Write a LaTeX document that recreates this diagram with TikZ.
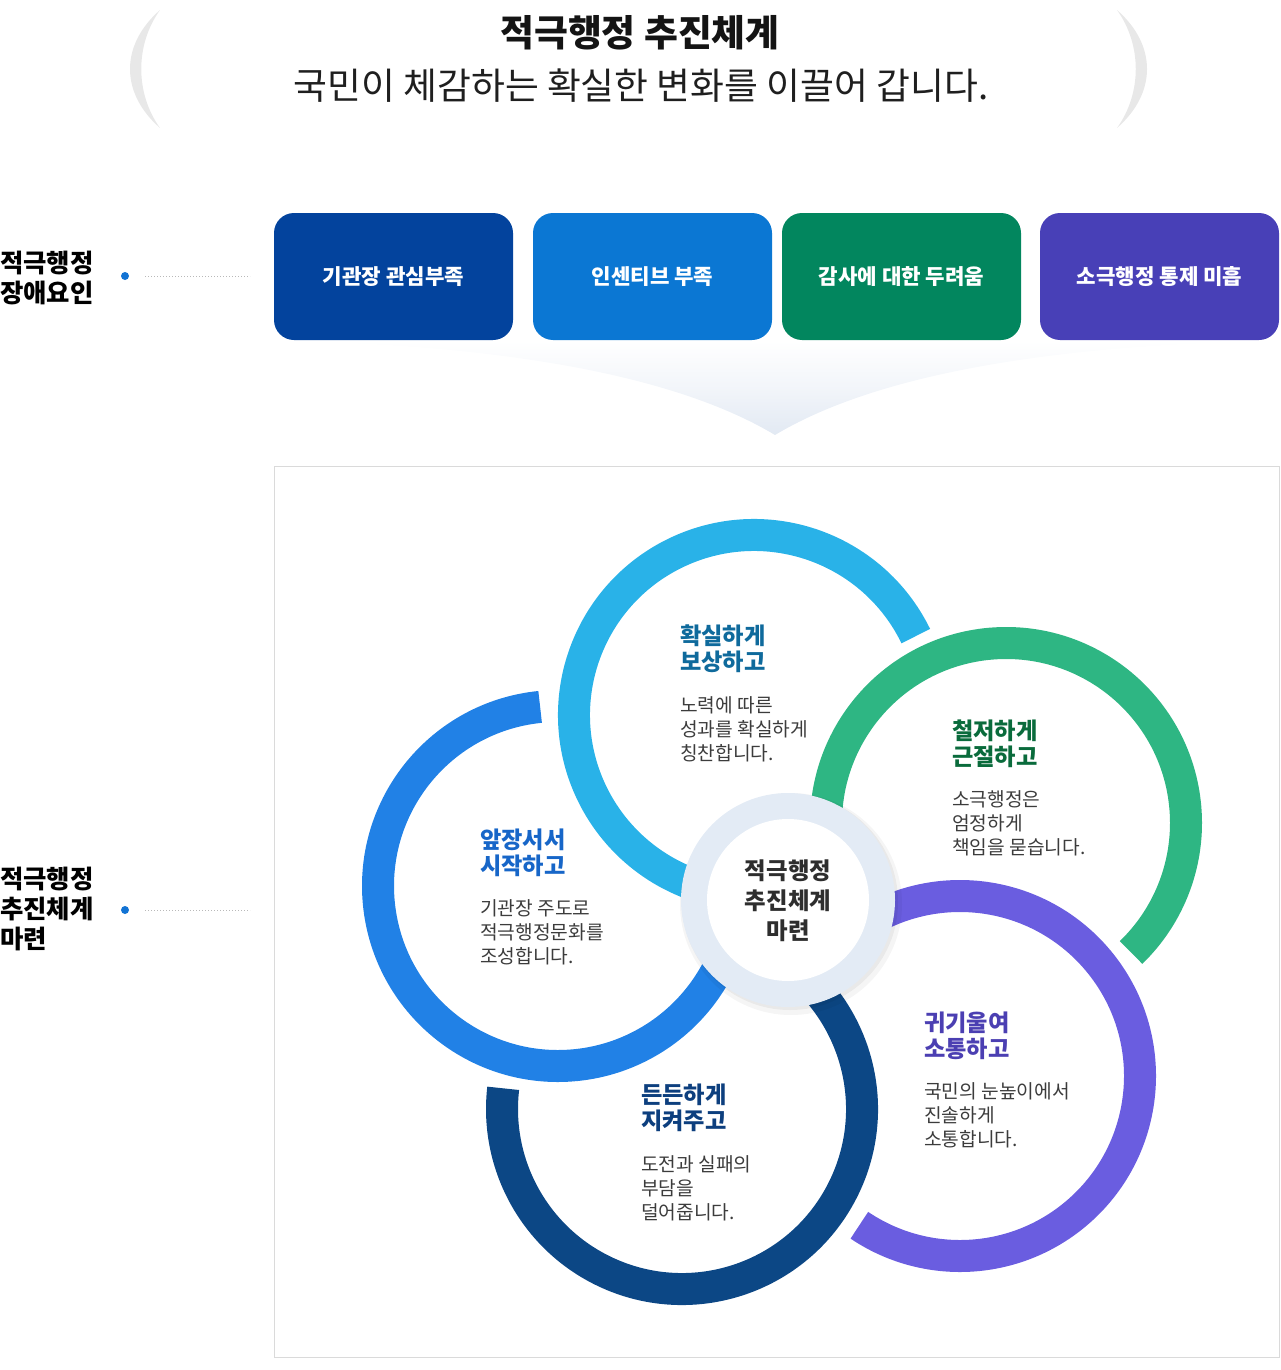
\documentclass[tikz,border=0pt]{standalone}
\usepackage{fontspec}
\setmainfont{Noto Sans CJK KR}
\usetikzlibrary{calc}
\definecolor{boxA}{HTML}{03439D}
\definecolor{boxB}{HTML}{0B77D3}
\definecolor{boxC}{HTML}{02865E}
\definecolor{boxD}{HTML}{4840B7}
\definecolor{ringLB}{HTML}{29B2E8}
\definecolor{ringBL}{HTML}{2181E6}
\definecolor{ringGR}{HTML}{2EB683}
\definecolor{ringPU}{HTML}{6A5DE0}
\definecolor{ringNV}{HTML}{0C4785}
\definecolor{ttlLB}{HTML}{0F6A9C}
\definecolor{ttlBL}{HTML}{1766C8}
\definecolor{ttlGR}{HTML}{0A6B3C}
\definecolor{ttlPU}{HTML}{4B3FB2}
\definecolor{ttlNV}{HTML}{0D3F7E}
\definecolor{bodytxt}{HTML}{3C3C3C}
\definecolor{centerring}{HTML}{E3EBF5}
\definecolor{arrowbg}{HTML}{E2E9F3}
\definecolor{bracketgray}{HTML}{E8E8E8}
\definecolor{framegray}{HTML}{DADADA}
\definecolor{dotblue}{HTML}{1273D4}
\begin{document}
\begin{tikzpicture}[x=1pt,y=-1pt,
  factorbox/.style={rounded corners=20pt, minimum width=239pt, minimum height=127pt, inner sep=0pt, text=white, font=\bfseries\fontsize{21.2}{24}\selectfont},
  sidelabel/.style={anchor=north west, inner sep=0pt, align=left, text=black, font=\bfseries\fontsize{25.4}{30}\selectfont},
  ringline/.style={line width=32pt},
  ringtitle/.style={anchor=north west, inner sep=0pt, align=left, font=\bfseries\fontsize{23.2}{26}\selectfont},
  ringbody/.style={anchor=north west, inner sep=0pt, align=left, text=bodytxt, font=\fontsize{19.2}{24}\selectfont},
  dotline/.style={draw=gray!55, line width=0.7pt, dash pattern=on 1pt off 2pt},
  bracket/.style={fill=bracketgray, draw=none}
]
\useasboundingbox (0,0) rectangle (1280,1370);

% header brackets
\fill[bracket] (160,10) .. controls (120,45) and (120,93) .. (160,128) .. controls (135,93) and (135,45) .. (160,10);
\fill[bracket] (1117,10) .. controls (1157,45) and (1157,93) .. (1117,128) .. controls (1142,93) and (1142,45) .. (1117,10);

% header text
\node[inner sep=0pt, font=\bfseries\fontsize{36.8}{40}\selectfont, text=black!92] (title) at (640,33) {적극행정 추진체계};
\node[inner sep=0pt, font=\fontsize{36.8}{40}\selectfont, text=black!88] (subtitle) at (641,86) {국민이 체감하는 확실한 변화를 이끌어 갑니다.};

% gradient arrow below boxes
\shade[top color=white, bottom color=arrowbg, middle color=arrowbg!45]
  (285,341) .. controls (490,345) and (670,372) .. (775,435)
  .. controls (880,372) and (1060,345) .. (1272,341) -- cycle;

% factor boxes
\node[factorbox, fill=boxA] (f1) at (393.5,276.5) {기관장 관심부족};
\node[factorbox, fill=boxB] (f2) at (652.5,276.5) {인센티브 부족};
\node[factorbox, fill=boxC] (f3) at (901.5,276.5) {감사에 대한 두려움};
\node[factorbox, fill=boxD] (f4) at (1159.5,276.5) {소극행정 통제 미흡};

% side labels
\node[sidelabel] (lab1) at (0,251) {적극행정\\장애요인};
\fill[dotblue] (125,276) circle (4);
\coordinate (d1a) at (145,276);
\coordinate (d1b) at (250,276);
\draw[dotline] (d1a) -- (d1b);

\node[sidelabel] (lab2) at (0,867) {적극행정\\추진체계\\마련};
\fill[dotblue] (125,910) circle (4);
\coordinate (d2a) at (145,910);
\coordinate (d2b) at (250,910);
\draw[dotline] (d2a) -- (d2b);

% frame
\draw[draw=framegray, line width=1pt] (274.5,466.5) rectangle (1279.5,1357.5);

% ring centers
\coordinate (cLB) at (754,715);
\coordinate (cBL) at (558,886);
\coordinate (cGR) at (1006,823);
\coordinate (cPU) at (960,1076);
\coordinate (cNV) at (682,1109);
\coordinate (cC) at (788,900);

% rings
\draw[ringline, draw=ringLB] ($(cLB)+(-26:180)$) arc[start angle=-26, end angle=-262, radius=180];
\draw[ringline, draw=ringBL] ($(cBL)+(-95.7:180)$) arc[start angle=-95.7, end angle=-340, radius=180];
\draw[ringline, draw=ringGR] ($(cGR)+(-185:180)$) arc[start angle=-185, end angle=46, radius=180];
\draw[ringline, draw=ringPU] ($(cPU)+(-130:180)$) arc[start angle=-130, end angle=124, radius=180];
\draw[ringline, draw=ringNV] ($(cNV)+(-63:180)$) arc[start angle=-63, end angle=186.6, radius=180];

% center circle
\fill[black, opacity=0.04] ($(cC)+(3,4)$) circle (111);
\fill[black, opacity=0.05] ($(cC)+(2,2)$) circle (108);
\fill[centerring] (cC) circle (107);
\fill[white] (cC) circle (81);
\node[inner sep=0pt, align=center, text=black!82, font=\bfseries\fontsize{23.4}{30}\selectfont] (ctext) at (788,901) {적극행정\\추진체계\\마련};

% ring texts
\node[ringtitle, text=ttlLB] (t1) at (680,625) {확실하게\\보상하고};
\node[ringbody] (b1) at (680,696) {노력에 따른\\성과를 확실하게\\칭찬합니다.};

\node[ringtitle, text=ttlGR] (t2) at (952,720) {철저하게\\근절하고};
\node[ringbody] (b2) at (952,790) {소극행정은\\엄정하게\\책임을 묻습니다.};

\node[ringtitle, text=ttlBL] (t3) at (480,829) {앞장서서\\시작하고};
\node[ringbody] (b3) at (480,899) {기관장 주도로\\적극행정문화를\\조성합니다.};

\node[ringtitle, text=ttlPU] (t4) at (924,1012) {귀기울여\\소통하고};
\node[ringbody] (b4) at (924,1082) {국민의 눈높이에서\\진솔하게\\소통합니다.};

\node[ringtitle, text=ttlNV] (t5) at (641,1084) {든든하게\\지켜주고};
\node[ringbody] (b5) at (641,1155) {도전과 실패의\\부담을\\덜어줍니다.};
\end{tikzpicture}
\end{document}
